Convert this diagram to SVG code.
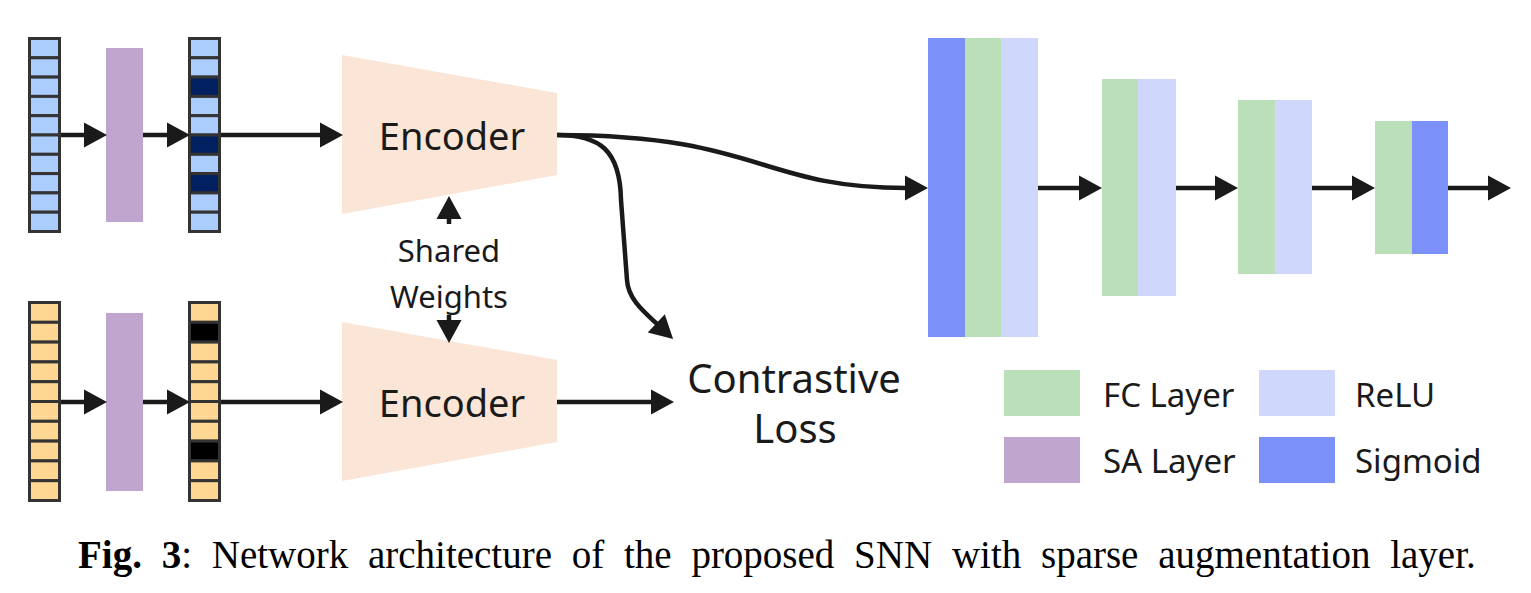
<svg xmlns="http://www.w3.org/2000/svg" width="1531" height="593" viewBox="0 0 1531 593">
<style>
.cb{fill:#abcdfe;stroke:#333;stroke-width:3}
.co{fill:#fed892;stroke:#333;stroke-width:3}
.cd{fill:#002060;stroke:#333;stroke-width:3}
.ck{fill:#000;stroke:#333;stroke-width:3}
.sa{fill:#c0a5cf}
.enc{fill:#fbe5d6}
.fc{fill:#bbdfb9}
.relu{fill:#cfd7fc}
.sig{fill:#7b90f8}
.conn{stroke:#1a1a1a;stroke-width:4.5;fill:none;marker-end:url(#ah)}
.lbl{font-family:"Noto Sans","Open Sans",sans-serif;fill:#1a1a1a}
.cap{font-family:"Liberation Serif","Times New Roman",serif;font-size:39px;fill:#000;word-spacing:10px}
</style>
<defs>
<marker id="ah" markerUnits="userSpaceOnUse" markerWidth="26" markerHeight="26" refX="1" refY="12.5" orient="auto" overflow="visible">
<path d="M0,0 L23,12.5 L0,25 z" fill="#1a1a1a"/>
</marker>
</defs>
<rect width="1531" height="593" fill="#fff"/>

<g id="input-top">
<rect class="cb" x="29.5" y="38.5" width="30" height="19.3"/>
<rect class="cb" x="29.5" y="57.8" width="30" height="19.3"/>
<rect class="cb" x="29.5" y="77.1" width="30" height="19.3"/>
<rect class="cb" x="29.5" y="96.4" width="30" height="19.3"/>
<rect class="cb" x="29.5" y="115.7" width="30" height="19.3"/>
<rect class="cb" x="29.5" y="135" width="30" height="19.3"/>
<rect class="cb" x="29.5" y="154.3" width="30" height="19.3"/>
<rect class="cb" x="29.5" y="173.6" width="30" height="19.3"/>
<rect class="cb" x="29.5" y="192.9" width="30" height="19.3"/>
<rect class="cb" x="29.5" y="212.2" width="30" height="19.3"/>
</g>
<g id="sa-top"><rect class="sa" x="106" y="48" width="37" height="174"/></g>
<g id="aug-top">
<rect class="cb" x="189.5" y="38.5" width="30" height="19.3"/>
<rect class="cb" x="189.5" y="57.8" width="30" height="19.3"/>
<rect class="cd" x="189.5" y="77.1" width="30" height="19.3"/>
<rect class="cb" x="189.5" y="96.4" width="30" height="19.3"/>
<rect class="cb" x="189.5" y="115.7" width="30" height="19.3"/>
<rect class="cd" x="189.5" y="135" width="30" height="19.3"/>
<rect class="cb" x="189.5" y="154.3" width="30" height="19.3"/>
<rect class="cd" x="189.5" y="173.6" width="30" height="19.3"/>
<rect class="cb" x="189.5" y="192.9" width="30" height="19.3"/>
<rect class="cb" x="189.5" y="212.2" width="30" height="19.3"/>
</g>

<g id="input-bottom">
<rect class="co" x="29.5" y="302.5" width="30" height="19.8"/>
<rect class="co" x="29.5" y="322.3" width="30" height="19.8"/>
<rect class="co" x="29.5" y="342.1" width="30" height="19.8"/>
<rect class="co" x="29.5" y="361.9" width="30" height="19.8"/>
<rect class="co" x="29.5" y="381.7" width="30" height="19.8"/>
<rect class="co" x="29.5" y="401.5" width="30" height="19.8"/>
<rect class="co" x="29.5" y="421.3" width="30" height="19.8"/>
<rect class="co" x="29.5" y="441.1" width="30" height="19.8"/>
<rect class="co" x="29.5" y="460.9" width="30" height="19.8"/>
<rect class="co" x="29.5" y="480.7" width="30" height="19.8"/>
</g>
<g id="sa-bottom"><rect class="sa" x="106" y="313" width="37" height="178"/></g>
<g id="aug-bottom">
<rect class="co" x="189.5" y="302.5" width="30" height="19.8"/>
<rect class="ck" x="189.5" y="322.3" width="30" height="19.8"/>
<rect class="co" x="189.5" y="342.1" width="30" height="19.8"/>
<rect class="co" x="189.5" y="361.9" width="30" height="19.8"/>
<rect class="co" x="189.5" y="381.7" width="30" height="19.8"/>
<rect class="co" x="189.5" y="401.5" width="30" height="19.8"/>
<rect class="co" x="189.5" y="421.3" width="30" height="19.8"/>
<rect class="ck" x="189.5" y="441.1" width="30" height="19.8"/>
<rect class="co" x="189.5" y="460.9" width="30" height="19.8"/>
<rect class="co" x="189.5" y="480.7" width="30" height="19.8"/>
</g>

<g id="encoder-top">
<polygon class="enc" points="342,55 557,93 557,175 342,214"/>
<text class="lbl" x="452" y="150" font-size="38" text-anchor="middle">Encoder</text>
</g>
<g id="encoder-bottom">
<polygon class="enc" points="342,322 557,360 557,442 342,481"/>
<text class="lbl" x="452" y="417" font-size="38" text-anchor="middle">Encoder</text>
</g>
<g id="shared-weights">
<text class="lbl" x="449" y="262" font-size="31" text-anchor="middle">Shared</text>
<text class="lbl" x="449" y="308" font-size="31" text-anchor="middle">Weights</text>
</g>
<g id="contrastive-loss">
<text class="lbl" x="794" y="393" font-size="40" text-anchor="middle">Contrastive</text>
<text class="lbl" x="795" y="443" font-size="40" text-anchor="middle">Loss</text>
</g>

<g id="head-block1">
<rect class="sig" x="928" y="38" width="37" height="299"/>
<rect class="fc" x="965" y="38" width="36" height="299"/>
<rect class="relu" x="1001" y="38" width="37" height="299"/>
</g>
<g id="head-block2">
<rect class="fc" x="1102" y="79" width="36" height="217"/>
<rect class="relu" x="1138" y="79" width="38" height="217"/>
</g>
<g id="head-block3">
<rect class="fc" x="1238" y="100" width="37" height="174"/>
<rect class="relu" x="1275" y="100" width="37" height="174"/>
</g>
<g id="head-block4">
<rect class="fc" x="1375" y="121" width="37" height="133"/>
<rect class="sig" x="1412" y="121" width="36" height="133"/>
</g>

<g id="legend">
<rect class="fc" x="1004" y="370" width="76" height="46"/>
<text class="lbl" x="1103" y="407" font-size="33">FC Layer</text>
<rect class="relu" x="1259" y="370" width="76" height="46"/>
<text class="lbl" x="1355" y="407" font-size="33">ReLU</text>
<rect class="sa" x="1004" y="437" width="76" height="46"/>
<text class="lbl" x="1103" y="473" font-size="33">SA Layer</text>
<rect class="sig" x="1259" y="437" width="76" height="46"/>
<text class="lbl" x="1355" y="473" font-size="33">Sigmoid</text>
</g>

<g id="connectors">
<path class="conn" d="M61,135 H85"/>
<path class="conn" d="M143,135 H168"/>
<path class="conn" d="M221,135 H321"/>
<path class="conn" d="M61,402 H85"/>
<path class="conn" d="M143,402 H168"/>
<path class="conn" d="M221,402 H321"/>
<path class="conn" d="M557,402 H652"/>
<path class="conn" d="M557,135 C760,135 760,188 906,188"/>
<path class="conn" d="M557,135 C600,135 620,150 621,200 L627,280 C628,298 642,310 657,324"/>
<path class="conn" d="M449,224 V218"/>
<path class="conn" d="M449,315 V321"/>
<path class="conn" d="M1038,188 H1080"/>
<path class="conn" d="M1176,188 H1216"/>
<path class="conn" d="M1312,188 H1353"/>
<path class="conn" d="M1448,188 H1489"/>
</g>

<g id="caption">
<text class="cap" x="78" y="568"><tspan font-weight="bold">Fig. 3</tspan>: Network architecture of the proposed SNN with sparse augmentation layer.</text>
</g>
</svg>
